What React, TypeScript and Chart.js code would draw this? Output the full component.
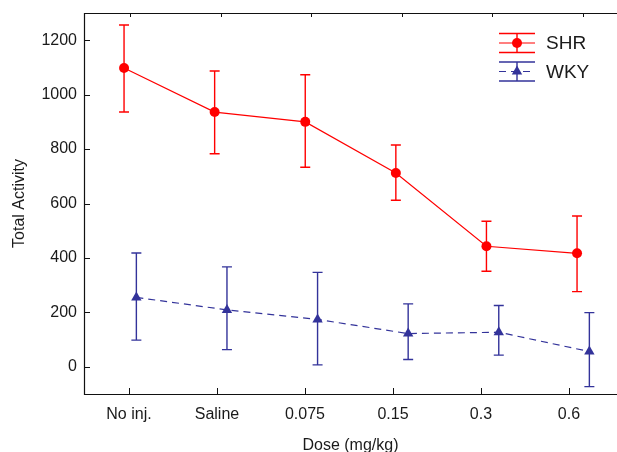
import React, { useEffect, useRef } from 'react';
import { Chart, registerables } from 'chart.js';
Chart.register(...registerables);

const categories = ['No inj.', 'Saline', '0.075', '0.15', '0.3', '0.6'];
const shrMean = [1098, 936, 900, 712, 443, 417];
const shrUpper = [1256, 1087, 1073, 815, 535, 554];
const shrLower = [936, 783, 733, 612, 351, 276];
const wkyMean = [255, 209, 174, 122, 127, 56];
const wkyUpper = [418, 367, 347, 231, 225, 199];
const wkyLower = [98, 63, 7, 27, 43, -73];
const yTicks = [0, 200, 400, 600, 800, 1000, 1200];

const RED = '#ff0000';
const BLUE = '#33339a';
const TEXT = '#1a1a1a';
const FONT = '"Liberation Sans", Arial, sans-serif';
const SHR_OFF = -0.066;
const WKY_OFF = 0.07;

const series = [
  { name: 'SHR', mean: shrMean, upper: shrUpper, lower: shrLower, color: RED, off: SHR_OFF, style: 'circle', radius: 5, dash: [] as number[] },
  { name: 'WKY', mean: wkyMean, upper: wkyUpper, lower: wkyLower, color: BLUE, off: WKY_OFF, style: 'triangle', radius: 6, dash: [7, 5] },
];

const errorBarPlugin = {
  id: 'errorBars',
  beforeDatasetsDraw(chart: any) {
    const { ctx, scales } = chart;
    const xs = scales.xp;
    const ys = scales.y;
    ctx.save();
    series.forEach((s) => {
      ctx.strokeStyle = s.color;
      ctx.lineWidth = 1.4;
      s.mean.forEach((_, i) => {
        const x = xs.getPixelForValue(i + s.off);
        const yu = ys.getPixelForValue(s.upper[i]);
        const yl = ys.getPixelForValue(s.lower[i]);
        ctx.beginPath();
        ctx.moveTo(x, yu);
        ctx.lineTo(x, yl);
        ctx.moveTo(x - 5, yu);
        ctx.lineTo(x + 5, yu);
        ctx.moveTo(x - 5, yl);
        ctx.lineTo(x + 5, yl);
        ctx.stroke();
      });
    });
    ctx.restore();
  },
};

const framePlugin = {
  id: 'frame',
  afterDraw(chart: any) {
    const { ctx, chartArea, scales } = chart;
    const { left, top, right, bottom } = chartArea;
    ctx.save();
    ctx.strokeStyle = '#111';
    ctx.lineWidth = 1.2;
    ctx.beginPath();
    ctx.moveTo(right, top + 0.5);
    ctx.lineTo(left + 0.5, top + 0.5);
    ctx.lineTo(left + 0.5, bottom + 0.5);
    ctx.lineTo(right, bottom + 0.5);
    ctx.stroke();
    ctx.lineWidth = 1;
    ctx.beginPath();
    yTicks.forEach((v) => {
      const y = Math.round(scales.y.getPixelForValue(v)) + 0.5;
      ctx.moveTo(left, y);
      ctx.lineTo(left + 6, y);
    });
    categories.forEach((_, i) => {
      const xb = Math.round(scales.x.getPixelForValue(i)) + 0.5;
      ctx.moveTo(xb, bottom);
      ctx.lineTo(xb, bottom - 6);
      const xt = Math.round(scales.xp.getPixelForValue(i)) + 0.5;
      ctx.moveTo(xt, top);
      ctx.lineTo(xt, top + 4);
    });
    ctx.stroke();
    ctx.restore();
  },
};

const legendPlugin = {
  id: 'customLegend',
  afterDraw(chart: any) {
    const { ctx } = chart;
    ctx.save();
    const x0 = 499;
    const x1 = 535;
    const xm = 517;
    const rows = [
      { s: series[0], y: 43 },
      { s: series[1], y: 71.5 },
    ];
    rows.forEach(({ s, y }) => {
      ctx.strokeStyle = s.color;
      ctx.lineWidth = 1.4;
      ctx.setLineDash([]);
      ctx.beginPath();
      ctx.moveTo(x0, y - 9.5);
      ctx.lineTo(x1, y - 9.5);
      ctx.moveTo(x0, y + 9.5);
      ctx.lineTo(x1, y + 9.5);
      ctx.moveTo(xm, y - 9.5);
      ctx.lineTo(xm, y + 9.5);
      ctx.stroke();
      ctx.setLineDash(s.dash);
      ctx.lineWidth = 1.2;
      ctx.beginPath();
      ctx.moveTo(x0, y);
      ctx.lineTo(x1, y);
      ctx.stroke();
      ctx.setLineDash([]);
      ctx.fillStyle = s.color;
      ctx.beginPath();
      if (s.style === 'circle') {
        ctx.arc(xm, y, 5, 0, Math.PI * 2);
      } else {
        const r = 6;
        ctx.moveTo(xm, y - r);
        ctx.lineTo(xm + r * 0.866, y + r * 0.5);
        ctx.lineTo(xm - r * 0.866, y + r * 0.5);
        ctx.closePath();
      }
      ctx.fill();
      ctx.fillStyle = TEXT;
      ctx.font = `19px ${FONT}`;
      ctx.textAlign = 'left';
      ctx.textBaseline = 'middle';
      ctx.fillText(s.name, 546, y + 1);
    });
    ctx.restore();
  },
};

export default function App() {
  const ref = useRef<HTMLCanvasElement | null>(null);
  useEffect(() => {
    if (!ref.current) return;
    const chart = new Chart(ref.current, {
      type: 'line',
      data: {
        datasets: series.map((s) => ({
          label: s.name,
          xAxisID: 'xp',
          yAxisID: 'y',
          data: s.mean.map((v, i) => ({ x: i + s.off, y: v })),
          borderColor: s.color,
          backgroundColor: s.color,
          borderWidth: 1.2,
          borderDash: s.dash,
          pointStyle: s.style,
          pointRadius: s.radius,
          pointBorderWidth: 0,
          pointBackgroundColor: s.color,
          tension: 0,
          fill: false,
        })),
      },
      options: {
        animation: false,
        responsive: false,
        maintainAspectRatio: false,
        layout: { autoPadding: false, padding: { top: 13, left: 0, right: 0, bottom: 0 } },
        plugins: { legend: { display: false }, tooltip: { enabled: false } },
        scales: {
          x: {
            type: 'linear',
            position: 'bottom',
            min: -0.511,
            max: 5.546,
            afterBuildTicks: (scale: any) => {
              scale.ticks = categories.map((_, i) => ({ value: i }));
            },
            afterFit: (scale: any) => {
              scale.height = 58;
              scale.paddingLeft = 0;
              scale.paddingRight = 0;
            },
            grid: { display: false, drawTicks: false },
            border: { display: false },
            ticks: {
              autoSkip: false,
              maxRotation: 0,
              padding: 11,
              color: TEXT,
              font: { size: 16, family: FONT },
              callback: (v: any) => categories[Number(v)] ?? '',
            },
            title: {
              display: true,
              text: 'Dose (mg/kg)',
              color: TEXT,
              font: { size: 16, family: FONT },
              padding: { top: 0, bottom: -3 },
            },
          },
          xp: {
            type: 'linear',
            display: false,
            min: -0.508,
            max: 5.375,
          },
          y: {
            type: 'linear',
            position: 'left',
            min: -100,
            max: 1300,
            afterBuildTicks: (scale: any) => {
              scale.ticks = yTicks.map((v) => ({ value: v }));
            },
            afterFit: (scale: any) => {
              scale.width = 84;
              scale.paddingTop = 0;
              scale.paddingBottom = 0;
            },
            grid: { display: false, drawTicks: false },
            border: { display: false },
            ticks: {
              padding: 7,
              color: TEXT,
              font: { size: 16, family: FONT },
              callback: (v: any) => String(v),
            },
            title: {
              display: true,
              text: 'Total Activity',
              color: TEXT,
              font: { size: 16, family: FONT },
              padding: { top: 10, bottom: 0 },
            },
          },
        },
      },
      plugins: [errorBarPlugin, framePlugin, legendPlugin],
    });
    return () => chart.destroy();
  }, []);
  return (
    <div style={{ position: 'absolute', left: 0, top: 0, width: 617, height: 452, background: '#fff' }}>
      <canvas ref={ref} width={617} height={452} style={{ width: 617, height: 452, display: 'block' }} />
    </div>
  );
}
